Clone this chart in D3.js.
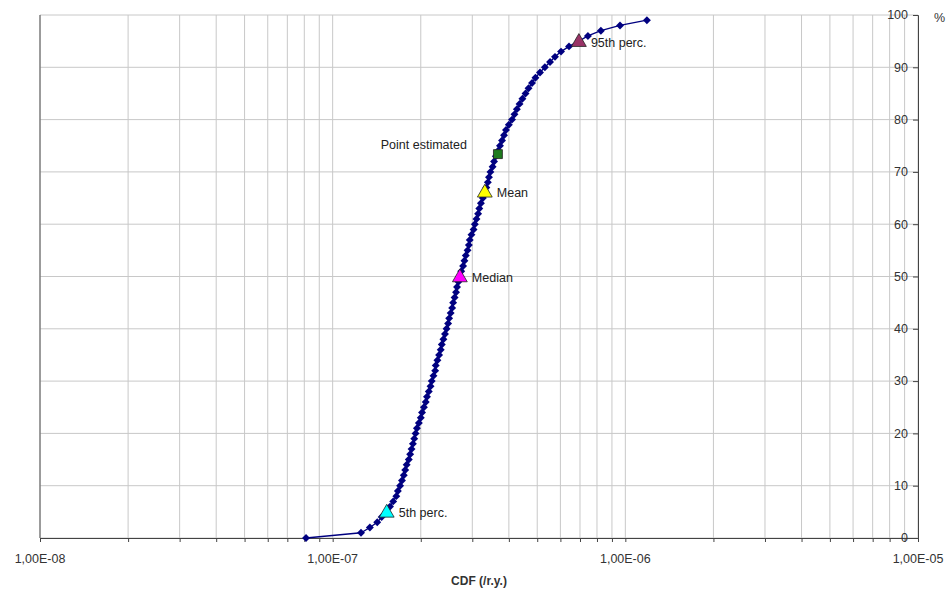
<!DOCTYPE html>
<html>
<head>
<meta charset="utf-8">
<script src="https://cdn.jsdelivr.net/npm/d3@7"></script>
<style>
  body { margin: 0; background: #fff; }
  text { font-family: "Liberation Sans", Arial, sans-serif; }
  .tick-label { font-size: 12.5px; fill: #333; }
  .mark-label { font-size: 12.5px; fill: #222; }
</style>
</head>
<body>
<svg id="chart"></svg>
<script>
// cumulative percentages (0..99) and the CDF value reached at each one
const percents = d3.range(0, 100);
const cdfValues = [
  0.811e-7,
  1.25e-7, 1.34e-7, 1.42e-7, 1.47e-7, 1.53e-7,
  1.57e-7, 1.61e-7, 1.65e-7, 1.67e-7, 1.70e-7,
  1.725e-7, 1.75e-7, 1.77e-7, 1.79e-7, 1.82e-7,
  1.84e-7, 1.86e-7, 1.88e-7, 1.90e-7, 1.92e-7,
  1.94e-7, 1.97e-7, 2.00e-7, 2.02e-7, 2.05e-7,
  2.08e-7, 2.10e-7, 2.13e-7, 2.16e-7, 2.18e-7,
  2.21e-7, 2.24e-7, 2.25e-7, 2.28e-7, 2.31e-7,
  2.34e-7, 2.36e-7, 2.39e-7, 2.42e-7, 2.45e-7,
  2.48e-7, 2.50e-7, 2.53e-7, 2.56e-7, 2.58e-7,
  2.61e-7, 2.64e-7, 2.66e-7, 2.69e-7, 2.72e-7,
  2.75e-7, 2.79e-7, 2.82e-7, 2.85e-7, 2.89e-7,
  2.92e-7, 2.94e-7, 2.98e-7, 3.03e-7, 3.06e-7,
  3.10e-7, 3.14e-7, 3.17e-7, 3.21e-7, 3.26e-7,
  3.31e-7, 3.35e-7, 3.39e-7, 3.42e-7, 3.46e-7,
  3.52e-7, 3.56e-7, 3.61e-7, 3.67e-7, 3.73e-7,
  3.79e-7, 3.85e-7, 3.91e-7, 4.00e-7, 4.10e-7,
  4.18e-7, 4.26e-7, 4.35e-7, 4.45e-7, 4.56e-7,
  4.67e-7, 4.80e-7, 4.93e-7, 5.11e-7, 5.31e-7,
  5.53e-7, 5.75e-7, 6.03e-7, 6.42e-7, 6.94e-7,
  7.45e-7, 8.25e-7, 9.59e-7, 1.185e-6
];

// highlighted statistics
const statNames = ['5th perc.', 'Median', 'Mean', 'Point estimated', '95th perc.'];
const statValues = [1.53e-7, 2.72e-7, 3.31e-7, 3.67e-7, 6.94e-7];
const statPercents = [5, 50, 66.2, 73.4, 95];
const statColors = ['#00ffff', '#ff00ff', '#ffff00', '#1e7b1e', '#993366'];
const statShapes = ['triangle', 'triangle', 'triangle', 'square', 'triangle'];

const xTickLabels = ['1,00E-08', '1,00E-07', '1,00E-06', '1,00E-05'];
const yTicks = d3.range(0, 101, 10);

const width = 948, height = 590;
const margin = {top: 15, right: 30, bottom: 52, left: 40};

const svg = d3.select('#chart')
  .attr('width', width)
  .attr('height', height);

const x = d3.scaleLog()
  .domain([1e-8, 1e-5])
  .range([margin.left, width - margin.right]);

const y = d3.scaleLinear()
  .domain([0, 100])
  .range([height - margin.bottom, margin.top]);

const x0 = x.range()[0], x1 = x.range()[1];
const y0 = y.range()[0], y1 = y.range()[1];

// gridlines
const grid = svg.append('g');
grid.selectAll('.vgrid')
  .data(x.ticks())
  .join('line')
    .attr('x1', d => x(d)).attr('x2', d => x(d))
    .attr('y1', y1).attr('y2', y0)
    .attr('stroke', '#c8c8c8');
grid.selectAll('.hgrid')
  .data(yTicks)
  .join('line')
    .attr('x1', x0).attr('x2', x1)
    .attr('y1', d => y(d)).attr('y2', d => y(d))
    .attr('stroke', '#c8c8c8');

// left border
svg.append('line')
  .attr('x1', x0).attr('x2', x0).attr('y1', y1).attr('y2', y0)
  .attr('stroke', '#555');

// bottom axis
const xAxis = svg.append('g')
  .attr('transform', `translate(0,${y0})`)
  .call(d3.axisBottom(x).tickSize(4).tickFormat(''));
xAxis.select('.domain').attr('stroke', '#444');
xAxis.selectAll('.tick line').attr('stroke', '#444');

svg.selectAll('.x-label')
  .data(xTickLabels)
  .join('text')
    .attr('class', 'tick-label')
    .attr('x', (d, i) => x(Math.pow(10, -8 + i)))
    .attr('y', y0 + 25)
    .attr('text-anchor', 'middle')
    .text(d => d);

svg.append('text')
  .attr('x', (x0 + x1) / 2)
  .attr('y', height - 5)
  .attr('text-anchor', 'middle')
  .style('font-size', '12px')
  .style('font-weight', 'bold')
  .attr('fill', '#333')
  .text('CDF (/r.y.)');

// right axis, labels sit inside the plot
const yAxis = svg.append('g')
  .attr('transform', `translate(${x1},0)`)
  .call(d3.axisLeft(y).tickValues(yTicks).tickSize(5).tickFormat(''));
yAxis.select('.domain').attr('stroke', '#444');
yAxis.selectAll('.tick line').attr('stroke', '#444');

svg.selectAll('.y-label')
  .data(yTicks)
  .join('text')
    .attr('class', 'tick-label')
    .attr('x', x1 - 10)
    .attr('y', d => y(d))
    .attr('dy', '0.35em')
    .attr('text-anchor', 'end')
    .text(d => d);

svg.append('text')
  .attr('class', 'tick-label')
  .attr('x', x1 + 16)
  .attr('y', y1 + 7)
  .attr('fill', '#445')
  .text('%');

// CDF curve
const points = percents.map((p, i) => ({p: p, v: cdfValues[i]}));

svg.append('path')
  .datum(points)
  .attr('fill', 'none')
  .attr('stroke', '#000080')
  .attr('stroke-width', 1.3)
  .attr('d', d3.line().x(d => x(d.v)).y(d => y(d.p)));

svg.selectAll('.pt')
  .data(points)
  .join('path')
    .attr('transform', d => `translate(${x(d.v)},${y(d.p)})`)
    .attr('d', d3.symbol(d3.symbolDiamond2, 40))
    .attr('fill', '#000080');

// statistic markers
const stats = statNames.map((n, i) => ({
  name: n, v: statValues[i], p: statPercents[i], color: statColors[i], shape: statShapes[i]
}));

svg.selectAll('.stat')
  .data(stats)
  .join('path')
    .attr('transform', d => `translate(${x(d.v)},${y(d.p) + (d.shape === 'triangle' ? 1 : 0)})`)
    .attr('d', d => d.shape === 'triangle'
      ? d3.symbol(d3.symbolTriangle, 95)()
      : d3.symbol(d3.symbolSquare, 80)())
    .attr('fill', d => d.color)
    .attr('stroke', '#222')
    .attr('stroke-width', 0.8);

svg.selectAll('.stat-label')
  .data(stats)
  .join('text')
    .attr('class', 'mark-label')
    .attr('x', d => d.name === 'Point estimated' ? x(d.v) - 31 : x(d.v) + 12)
    .attr('y', d => d.name === 'Point estimated' ? y(d.p) - 9 : y(d.p) + 1)
    .attr('dy', '0.35em')
    .attr('text-anchor', d => d.name === 'Point estimated' ? 'end' : 'start')
    .text(d => d.name);
</script>
</body>
</html>
